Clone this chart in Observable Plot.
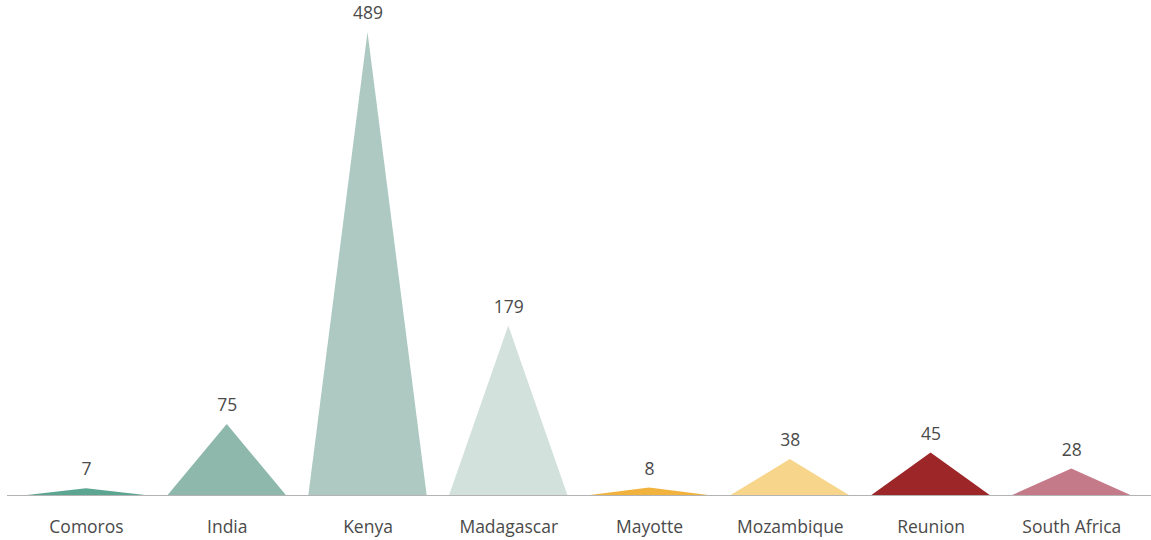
<!DOCTYPE html>
<html>
<head>
<meta charset="utf-8">
<script src="https://cdn.jsdelivr.net/npm/d3@7"></script>
<script src="https://cdn.jsdelivr.net/npm/@observablehq/plot@0.6"></script>
<style>
  html, body { margin: 0; padding: 0; background: #fff; }
  #chart svg { display: block; }
</style>
</head>
<body>
<div id="chart"></div>
<script>
// Country counts, one peak per country
const countries = ["Comoros", "India", "Kenya", "Madagascar", "Mayotte", "Mozambique", "Reunion", "South Africa"];
const counts = [7, 75, 489, 179, 8, 38, 45, 28];
const colors = ["#5ca591", "#8db8ab", "#adc9c2", "#d2e1dc", "#f1b23e", "#f7d68c", "#9c2628", "#c47a89"];

// Each peak is a triangle: left foot, apex, right foot
const halfWidth = 0.42;
const peaks = countries.flatMap((c, i) => [
  {country: c, x: i - halfWidth, y: 0},
  {country: c, x: i, y: counts[i]},
  {country: c, x: i + halfWidth, y: 0}
]);
const apexes = countries.map((c, i) => ({country: c, x: i, y: counts[i]}));

const chart = Plot.plot({
  width: 1151,
  height: 540,
  marginLeft: 7,
  marginRight: 0,
  marginTop: 0,
  marginBottom: 45,
  style: {fontFamily: "'Open Sans', Lato, sans-serif", fontSize: "17.5px", color: "#4a4a4a"},
  x: {
    domain: [-0.5, countries.length - 0.5],
    range: [15.6, 1141.7],
    ticks: d3.range(countries.length),
    tickFormat: i => countries[i],
    tickSize: 0,
    tickPadding: 25,
    label: null
  },
  y: {domain: [0, 489], range: [495, 32], axis: null},
  color: {domain: countries, range: colors},
  marks: [
    Plot.areaY(peaks, {x: "x", y: "y", z: "country", fill: "country", curve: "linear"}),
    Plot.ruleY([0], {stroke: "#b3b3b3", strokeWidth: 1.2}),
    Plot.text(apexes, {x: "x", y: "y", text: d => String(d.y), dy: -19, fill: "#4a4a4a", fontSize: 17.5})
  ]
});

document.getElementById("chart").appendChild(chart);
</script>
</body>
</html>
